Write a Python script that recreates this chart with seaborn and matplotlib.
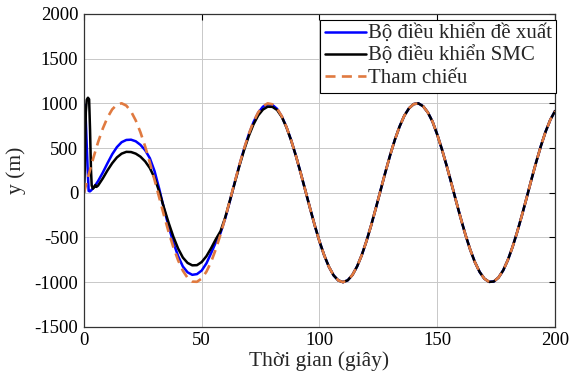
import numpy as np
import pandas as pd
import matplotlib
matplotlib.use("Agg")
import matplotlib.pyplot as plt
import seaborn as sns

# ---------------- data ----------------
t_ref = np.arange(0, 201, 2)
y_ref = [0, 199, 389, 565, 717, 841, 932, 985, 1000, 974,
         909, 808, 675, 516, 335, 141, -58, -256, -443, -612,
         -757, -872, -952, -994, -996, -959, -883, -773, -631, -465,
         -279, -83, 117, 312, 494, 657, 794, 899, 968, 999,
         989, 941, 855, 734, 585, 412, 223, 25, -174, -366,
         -544, -699, -828, -924, -981, -1000, -979, -919, -823, -694,
         -537, -359, -166, 33, 231, 420, 592, 740, 860, 944,
         991, 999, 967, 898, 795, 650, 484, 301, 106, -94,
         -288, -472, -637, -777, -886, -961, -997, -993, -949, -868,
         -751, -604, -434, -248, -52, 149, 342, 522, 683, 815,
         913]

# proposed controller (blue)
t_prop_early = [0, 0.3, 0.5, 0.8, 1.2, 1.6, 2.0, 2.5, 3, 4, 5]
y_prop_early = [0, 900, 980, 800, 520, 250, 20, 15, 25, 55, 90]
t_prop_mid = list(range(6, 90, 2))
y_prop_mid = [130, 225, 330, 430, 510, 565, 590, 593, 575, 535,
              475, 385, 240, 40, -180, -380, -560, -710, -825, -890,
              -918, -910, -870, -790, -675, -555, -450, -285, -90, 112,
              308, 490, 652, 790, 895, 962, 990, 982, 938, 853,
              733, 585]

# SMC controller (black)
t_smc_early = [0, 0.4, 0.8, 1.2, 1.7, 2.2, 2.6, 3.0, 3.3, 3.8, 4.3, 4.8, 5.3]
y_smc_early = [0, 300, 900, 1040, 1062, 1045, 700, 250, 80, 45, 60, 85, 65]
t_smc_mid = list(range(6, 90, 2))
y_smc_mid = [80, 160, 250, 330, 395, 437, 457, 455, 437, 403,
             350, 275, 165, 10, -170, -340, -495, -625, -725, -785,
             -812, -810, -775, -710, -620, -520, -430, -275, -85, 108,
             300, 478, 635, 765, 865, 930, 962, 960, 925, 848,
             730, 583]

# after t = 90 both controllers lie on the reference
t_tail = list(t_ref[45:])
y_tail = y_ref[45:]

t_prop = t_prop_early + t_prop_mid + t_tail
y_prop = y_prop_early + y_prop_mid + y_tail
t_smc = t_smc_early + t_smc_mid + t_tail
y_smc = y_smc_early + y_smc_mid + y_tail

labels = ["Bộ điều khiển đề xuất", "Bộ điều khiển SMC", "Tham chiếu"]
x_ticks = [0, 50, 100, 150, 200]
y_ticks = [-1500, -1000, -500, 0, 500, 1000, 1500, 2000]

# ---------------- plotting ----------------
sns.set_theme(style="white")
plt.rcParams["font.family"] = ["Liberation Serif", "DejaVu Serif"]
plt.rcParams["axes.unicode_minus"] = False

fig = plt.figure(figsize=(5.71, 3.85), dpi=100)
ax = fig.add_axes([0.147, 0.151, 0.825, 0.813])

sns.lineplot(x=t_prop, y=y_prop, ax=ax, color="#0000FF", lw=1.8,
             sort=False, estimator=None, label=labels[0])
sns.lineplot(x=t_smc, y=y_smc, ax=ax, color="black", lw=1.8,
             sort=False, estimator=None, label=labels[1])
sns.lineplot(x=t_ref, y=y_ref, ax=ax, color="#E07A40", lw=1.9,
             sort=False, estimator=None, label=labels[2])
ax.lines[2].set_dashes([3.8, 2.4])

ax.set_xlim(0, 200)
ax.set_ylim(-1500, 2000)
ax.set_xticks(x_ticks)
ax.set_yticks(y_ticks)
ax.tick_params(axis="both", direction="in", length=4, width=0.8,
               labelsize=13.5, colors="black", top=True, right=True,
               pad=4)
ax.grid(True, color="#C8C8C8", lw=0.7)
for s in ax.spines.values():
    s.set_color("#333333")
    s.set_linewidth(0.9)

ax.set_xlabel("Thời gian (giây)", fontsize=15.5, labelpad=1)
ax.set_ylabel("y (m)", fontsize=15.5, labelpad=6)

leg = ax.legend(loc="upper right", bbox_to_anchor=(1.003, 0.979),
                fontsize=15, frameon=True, fancybox=False,
                edgecolor="black", framealpha=1, borderpad=0.2,
                labelspacing=0.12, handlelength=2.0, handletextpad=0.1,
                borderaxespad=0.0)
leg.get_frame().set_linewidth(0.8)
leg.get_lines()[2].set_dashes([3.8, 2.4])

fig.savefig("out.png", dpi=100)
